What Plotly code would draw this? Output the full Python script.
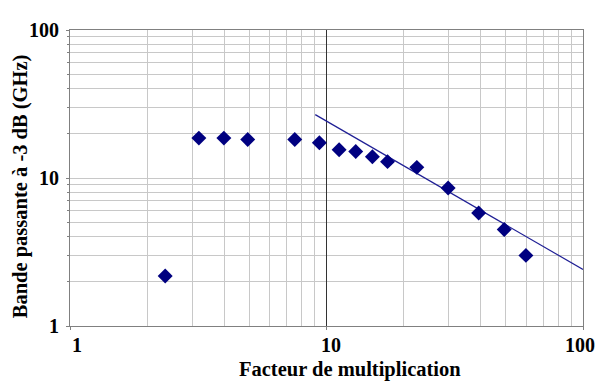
import math
import plotly.graph_objects as go

# Measured data (log-log)
facteur = [2.35, 3.18, 3.98, 4.93, 7.52, 9.38, 11.2, 13.0, 15.1, 17.3, 22.5, 29.8, 39.2, 49.3, 59.9]
bande = [2.18, 18.6, 18.6, 18.2, 18.2, 17.3, 15.5, 15.1, 13.9, 12.9, 11.8, 8.57, 5.81, 4.49, 3.0]

# Trend line endpoints
trend_x = [9.04, 100]
trend_y = [26.8, 2.41]

x_ticks = [1, 10, 100]
x_ticktext = ["1", "10", "100"]
y_ticks = [1, 10, 100]
y_ticktext = ["1", "10", "100"]

NAVY = "#000080"
FONT = "Liberation Serif"

fig = go.Figure()
fig.add_trace(go.Scatter(x=trend_x, y=trend_y, mode="lines",
                         line=dict(color="#1f1f95", width=1.2),
                         showlegend=False, hoverinfo="skip"))
fig.add_trace(go.Scatter(x=facteur, y=bande, mode="markers",
                         marker=dict(symbol="diamond", size=11.5, color=NAVY,
                                     line=dict(width=0)),
                         showlegend=False))

axis_common = dict(
    type="log",
    showline=True, linecolor="#808080", linewidth=1.2, mirror=True,
    ticks="outside", ticklen=3, tickcolor="#808080",
    tickfont=dict(family=FONT, size=20, color="black", weight="bold"),
    zeroline=False,
    ticklabeloverflow="allow",
    automargin=False,
)

fig.update_xaxes(
    range=[0, 2], tickvals=x_ticks, ticktext=["" for _ in x_ticks],
    showgrid=True, gridcolor="#333333", gridwidth=1,
    minor=dict(showgrid=True, gridcolor="#c8c8c8", gridwidth=1, dtick="D1",
               ticks=""),
    **axis_common,
)
fig.update_yaxes(
    range=[0, 2], tickvals=y_ticks, ticktext=y_ticktext,
    showgrid=False,
    minor=dict(showgrid=True, gridcolor="#c8c8c8", gridwidth=1, dtick="D1",
               ticks="outside", ticklen=2, tickcolor="#808080"),
    ticklabelstandoff=3,
    **axis_common,
)

# plot area in page pixels: left 70, right 583, top 29.5, bottom 326
PL, PR, PT, PB = 70, 583, 29.5, 326
PW, PH = PR - PL, PB - PT

# x tick labels, nudged like the original (kept inside the page)
x_label_shift = [7, 4, -3]
for v, txt, dx in zip(x_ticks, x_ticktext, x_label_shift):
    fig.add_annotation(text=txt, xref="x", yref="paper", x=math.log10(v),
                       y=-(345 - PB) / PH, xshift=dx, showarrow=False,
                       xanchor="center", yanchor="middle",
                       font=dict(family=FONT, size=20, color="black", weight="bold"))

fig.add_annotation(text="Facteur de multiplication", xref="paper", yref="paper",
                   x=(350 - PL) / PW, y=-(370 - PB) / PH,
                   showarrow=False, xanchor="center", yanchor="middle",
                   font=dict(family=FONT, size=20.5, color="black", weight="bold"))
fig.add_annotation(text="Bande passante à -3 dB (GHz)", xref="paper", yref="paper",
                   x=-(PL - 20) / PW, y=(PB - 186) / PH, textangle=-90,
                   showarrow=False, xanchor="center", yanchor="middle",
                   font=dict(family=FONT, size=20.5, color="black", weight="bold"))

fig.update_layout(
    width=596, height=381,
    margin=dict(l=PL, r=596 - PR, t=PT, b=381 - PB),
    paper_bgcolor="white", plot_bgcolor="white",
    showlegend=False,
)

# remove the default page margin so the figure fills the window exactly
fig.write_html(
    "out.html",
    config={"displayModeBar": False},
    post_script="document.body.style.margin='0';document.body.style.overflow='hidden';",
)
